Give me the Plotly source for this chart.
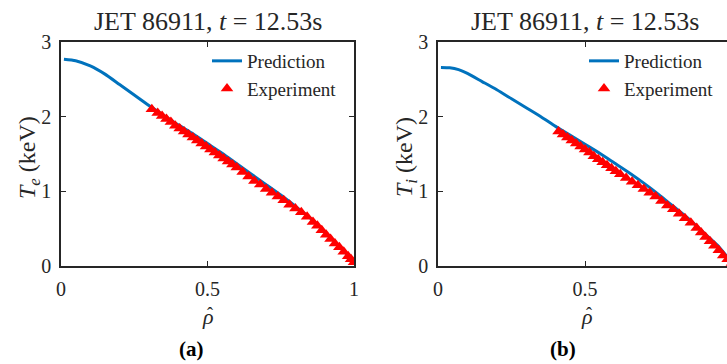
import plotly.graph_objects as go

# ---- data ----
rho_pred_a = [0.01, 0.05, 0.10, 0.15, 0.20, 0.25, 0.30, 0.35, 0.40, 0.45, 0.50, 0.55, 0.60,
              0.65, 0.70, 0.75, 0.80, 0.85, 0.90, 0.95, 0.98, 1.00]
te_pred = [2.77, 2.75, 2.68, 2.57, 2.43, 2.29, 2.15, 2.02, 1.89, 1.77, 1.64, 1.51, 1.37,
           1.23, 1.09, 0.95, 0.80, 0.645, 0.46, 0.26, 0.14, 0.05]

rho_exp_a = [0.31, 0.33, 0.345, 0.36, 0.375, 0.39, 0.405, 0.42, 0.435, 0.45, 0.465, 0.48,
             0.495, 0.51, 0.525, 0.54, 0.555, 0.57, 0.585, 0.60, 0.62, 0.64, 0.66, 0.68,
             0.70, 0.72, 0.74, 0.76, 0.78, 0.80, 0.82, 0.84, 0.86, 0.875, 0.89, 0.905,
             0.92, 0.935, 0.95, 0.965, 0.98, 0.99, 1.00]
te_exp = [2.10, 2.05, 2.01, 1.97, 1.93, 1.88, 1.84, 1.80, 1.76, 1.72, 1.68, 1.64,
          1.60, 1.56, 1.52, 1.48, 1.44, 1.40, 1.36, 1.32, 1.26, 1.20, 1.14, 1.09,
          1.03, 0.98, 0.93, 0.88, 0.82, 0.77, 0.72, 0.66, 0.59, 0.54, 0.48, 0.42,
          0.36, 0.30, 0.25, 0.19, 0.13, 0.09, 0.05]

rho_pred_b = [0.01, 0.04, 0.07, 0.10, 0.15, 0.20, 0.25, 0.30, 0.35, 0.40, 0.45, 0.50, 0.55,
              0.60, 0.65, 0.70, 0.75, 0.80, 0.85, 0.90, 0.95, 0.98, 1.00]
ti_pred = [2.66, 2.655, 2.63, 2.58, 2.47, 2.36, 2.24, 2.12, 2.00, 1.87, 1.75, 1.63, 1.51,
           1.38, 1.25, 1.11, 0.96, 0.80, 0.64, 0.46, 0.28, 0.14, 0.05]

rho_exp_b = [0.41, 0.425, 0.44, 0.455, 0.47, 0.485, 0.50, 0.515, 0.53, 0.545, 0.56, 0.575,
             0.59, 0.605, 0.62, 0.64, 0.66, 0.68, 0.70, 0.72, 0.74, 0.76, 0.78, 0.80,
             0.82, 0.84, 0.86, 0.88, 0.895, 0.91, 0.925, 0.94, 0.955, 0.97, 0.985, 1.00]
ti_exp = [1.80, 1.76, 1.72, 1.68, 1.64, 1.60, 1.56, 1.52, 1.47, 1.43, 1.39, 1.35,
          1.31, 1.27, 1.23, 1.18, 1.13, 1.08, 1.03, 0.98, 0.93, 0.87, 0.81, 0.76,
          0.70, 0.64, 0.58, 0.51, 0.45, 0.39, 0.33, 0.27, 0.21, 0.14, 0.09, 0.04]

x_ticks = [0, 0.5, 1]
x_ticklabels = ["0", "0.5", "1"]
y_ticks = [0, 1, 2, 3]
y_ticklabels = ["0", "1", "2", "3"]

title_text = "JET 86911, <i>t</i> = 12.53s"

# ---- styling ----
W, H = 727, 364
FONT = "Liberation Serif, Times New Roman, serif"
BLUE = "#0072BD"
RED = "#FF0000"
AX = "#262626"

fig = go.Figure()
fig.add_trace(go.Scatter(x=rho_pred_a, y=te_pred, mode="lines", name="Prediction",
                         line=dict(color=BLUE, width=3, shape="spline", smoothing=0.6),
                         xaxis="x", yaxis="y", legend="legend"))
fig.add_trace(go.Scatter(x=rho_exp_a, y=te_exp, mode="markers", name="Experiment",
                         marker=dict(symbol="triangle-up", color=RED, size=11),
                         xaxis="x", yaxis="y", legend="legend"))
fig.add_trace(go.Scatter(x=rho_pred_b, y=ti_pred, mode="lines", name="Prediction",
                         line=dict(color=BLUE, width=3, shape="spline", smoothing=0.6),
                         xaxis="x2", yaxis="y2", legend="legend2"))
fig.add_trace(go.Scatter(x=rho_exp_b, y=ti_exp, mode="markers", name="Experiment",
                         marker=dict(symbol="triangle-up", color=RED, size=11),
                         xaxis="x2", yaxis="y2", legend="legend2"))

ybot = 1 - 266 / H
ytop = 1 - 42 / H
xa0, xa1 = 61 / W, 354 / W
xb0 = 438 / W
b_right = (W - 438) / 294.0

common_x = dict(tickmode="array", tickvals=x_ticks, ticktext=x_ticklabels, ticks="inside",
                ticklen=5, tickcolor=AX, tickwidth=1, showline=True, linecolor=AX, linewidth=1.5,
                showgrid=False, zeroline=False, ticklabelstandoff=4,
                tickfont=dict(family=FONT, size=20, color=AX))
common_y = dict(tickmode="array", tickvals=y_ticks, ticktext=y_ticklabels, ticks="inside",
                ticklen=5, tickcolor=AX, tickwidth=1, showline=True, linecolor=AX, linewidth=1.5,
                showgrid=False, zeroline=False, range=[0, 3], ticklabelstandoff=4,
                tickfont=dict(family=FONT, size=20, color=AX))

leg_common = dict(yanchor="top", xanchor="left", bgcolor="rgba(0,0,0,0)",
                  font=dict(family=FONT, size=19, color=AX), tracegroupgap=0, itemwidth=30)

fig.update_layout(
    width=W, height=H, autosize=False,
    margin=dict(l=0, r=0, t=0, b=0, autoexpand=False),
    paper_bgcolor="white", plot_bgcolor="white",
    font=dict(family=FONT, color=AX),
    xaxis=dict(domain=[xa0, xa1], range=[0, 1], anchor="y", mirror="ticks", **common_x),
    yaxis=dict(domain=[ybot, ytop], anchor="x", mirror="ticks", **common_y),
    xaxis2=dict(domain=[xb0, 1.0], range=[0, b_right], anchor="y2", mirror="ticks", **common_x),
    yaxis2=dict(domain=[ybot, ytop], anchor="x2", mirror=False, **common_y),
    legend=dict(x=207 / W, y=1 - 42 / H, **leg_common),
    legend2=dict(x=584 / W, y=1 - 42 / H, **leg_common),
    showlegend=True,
)

annos = []
for cx, rx, lx, lab in [((61 + 354) / 2, 208, 191, "(a)"), ((438 + 732) / 2, 587, 563, "(b)")]:
    annos.append(dict(x=cx / W, y=1 - 21 / H, xref="paper", yref="paper", text=title_text,
                      showarrow=False, font=dict(family=FONT, size=26, color=AX),
                      xanchor="center", yanchor="middle"))
    annos.append(dict(x=rx / W, y=1 - 316 / H, xref="paper", yref="paper", text="<i>ρ</i>",
                      showarrow=False, font=dict(family=FONT, size=22, color=AX),
                      xanchor="center", yanchor="middle"))
    annos.append(dict(x=(rx + 2) / W, y=1 - 314 / H, xref="paper", yref="paper", text="ˆ",
                      showarrow=False, font=dict(family=FONT, size=18, color=AX),
                      xanchor="center", yanchor="middle"))
    annos.append(dict(x=lx / W, y=1 - 349 / H, xref="paper", yref="paper", text="<b>" + lab + "</b>",
                      showarrow=False, font=dict(family=FONT, size=21, color="black"),
                      xanchor="center", yanchor="middle"))
annos.append(dict(x=29 / W, y=1 - 157 / H, xref="paper", yref="paper",
                  text="<i>T</i><sub><i>e</i></sub> (keV)", textangle=-90, showarrow=False,
                  font=dict(family=FONT, size=24, color=AX), xanchor="center", yanchor="middle"))
annos.append(dict(x=406 / W, y=1 - 157 / H, xref="paper", yref="paper",
                  text="<i>T</i><sub><i>i</i></sub> (keV)", textangle=-90, showarrow=False,
                  font=dict(family=FONT, size=24, color=AX), xanchor="center", yanchor="middle"))
fig.update_layout(annotations=annos)

fig.write_html("out.html", config={"displayModeBar": False},
               post_script="document.body.style.margin='0';document.body.style.overflow='hidden';")
